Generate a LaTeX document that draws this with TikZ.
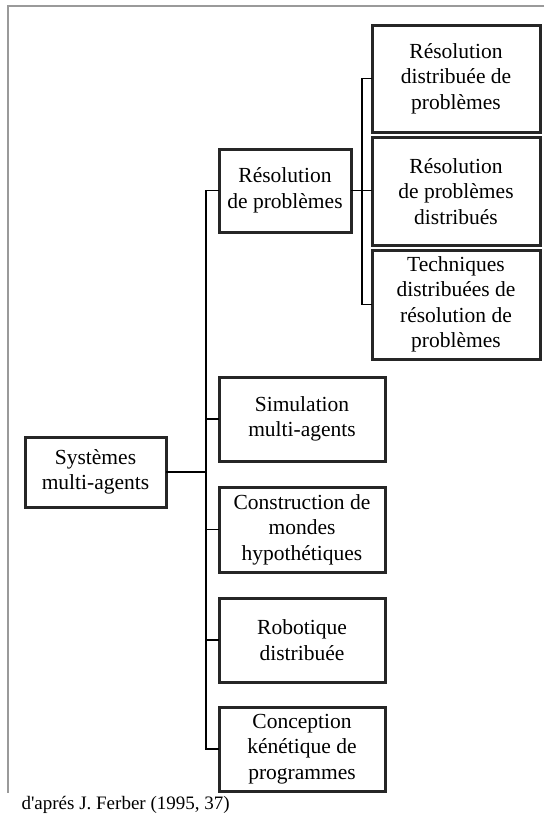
\documentclass[tikz,border=0pt]{standalone}
\usepackage{fontspec}
\setmainfont{Liberation Serif}
\usepackage{xcolor}
\usepackage{tikz}
\usetikzlibrary{positioning, calc}

\begin{document}
\begin{tikzpicture}[x=1pt, y=-1pt,
  font=\fontsize{21.5}{25.5}\selectfont,
  box/.style={draw=boxLine, line width=3pt, align=center, inner sep=0pt, outer sep=0pt},
  link/.style={draw=black, line width=1.1pt}]

\definecolor{boxLine}{HTML}{262626}
\definecolor{frameGray}{HTML}{9A9A9A}

\useasboundingbox (0,0) rectangle (544,814);

% frame
\draw[frameGray, line width=1.2pt] (544,6) -- (8,6) -- (8,793);

% ===== root =====
\node[box, minimum width=141, minimum height=70] (sma) at (95.5, 472) {Systèmes\\multi-agents};

% ===== first level (x=302) =====
\node[box, minimum width=132, minimum height=83] (resol) at (285, 190.5) {Résolution\\de problèmes};
\node[box, minimum width=166, minimum height=84] (simul) at (302, 419)   {Simulation\\multi-agents};
\node[box, minimum width=166, minimum height=85] (constr) at (302, 529.5) {Construction de\\mondes\\hypothétiques};
\node[box, minimum width=166, minimum height=84] (robot) at (302, 640)   {Robotique\\distribuée};
\node[box, minimum width=166, minimum height=84] (concep) at (302, 749)  {Conception\\kénétique de\\programmes};

% ===== second level (x=456) =====
\node[box, minimum width=168, minimum height=107] (rdp) at (456, 78.5)  {Résolution\\distribuée de\\problèmes};
\node[box, minimum width=168, minimum height=108] (rpd) at (456, 191.5) {Résolution\\de problèmes\\distribués};
\node[box, minimum width=168, minimum height=109] (tdr) at (456, 304.5) {Techniques\\distribuées de\\résolution de\\problèmes};

% buses
\coordinate (mainbus) at (206, 0);
\coordinate (subbus) at (362, 0);

\draw[link] (sma.east) -- (sma.east -| mainbus);
\draw[link] (resol.west) -- (resol.west -| mainbus) -- (concep.west -| mainbus) -- (concep.west);
\foreach \n in {simul, constr, robot}
  \draw[link] (\n.west) -- (\n.west -| mainbus);

\draw[link] (rdp.west) -- (rdp.west -| subbus) -- (tdr.west -| subbus) -- (tdr.west);
\draw[link] (resol.east) -- (resol.east -| rpd.west);

% source
\node[anchor=base west, font=\fontsize{19}{22}\selectfont] (src) at (18, 809) {d\textquotesingle aprés J. Ferber (1995, 37)};

\end{tikzpicture}
\end{document}
